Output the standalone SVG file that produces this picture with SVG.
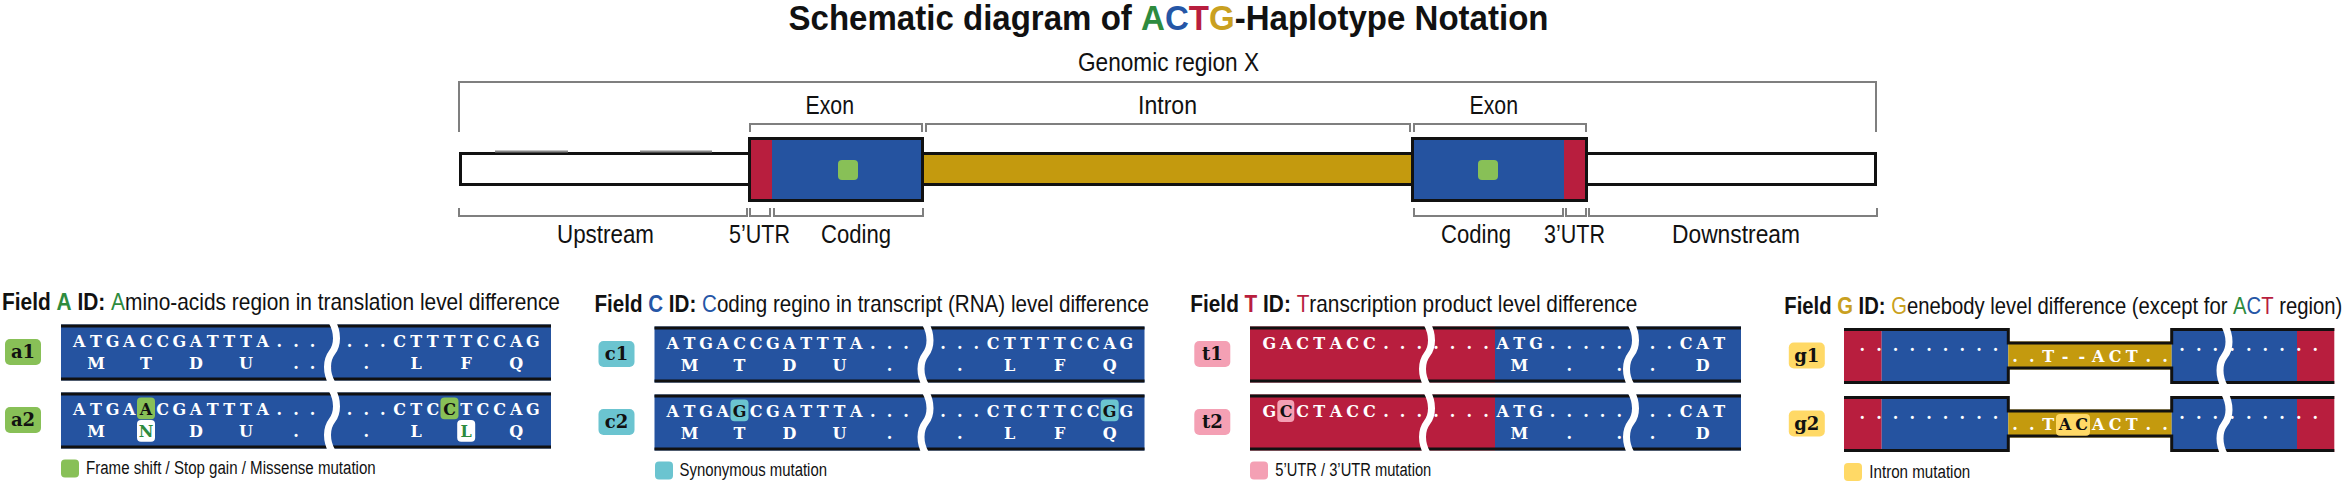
<svg xmlns="http://www.w3.org/2000/svg" width="2344" height="482" viewBox="0 0 2344 482">
<style>
.lbl{font-family:"Liberation Sans",Arial,sans-serif;font-size:26px;fill:#111}
.ttl{font-family:"Liberation Sans",Arial,sans-serif;font-size:35px;font-weight:bold;fill:#111}
.brk{fill:none;stroke:#7f7f7f;stroke-width:2}
.ft{font-family:"Liberation Sans",Arial,sans-serif;font-size:23px;fill:#111}
.b{font-weight:bold}
.leg{font-family:"Liberation Sans",Arial,sans-serif;font-size:18px;fill:#111}
.seq{font-family:"DejaVu Serif",serif;font-size:16px;font-weight:bold;fill:#fff;text-anchor:middle}
.tag{font-family:"DejaVu Serif",serif;font-size:18px;font-weight:bold;fill:#111;text-anchor:middle}
.blue{fill:#2553A0}
.red{fill:#B81E3E}
.gold{fill:#C49A0E}
.edge{stroke:#111;stroke-width:3;fill:none}
.cut{fill:none;stroke:#fff;stroke-width:7}
.hk{fill:#111}
.gA{fill:#2E8B3E}.cC{fill:#2556A6}.rT{fill:#B81E3E}.yG{fill:#C9A020}
</style>
<defs>
<path id="cut" class="cut" d="M0,-3 C6,8 6,20 0,28 S-6,48 0,59"/>
</defs>

<text id="title" class="ttl" transform="translate(788.5,30) scale(0.95,1)" x="0" y="0" textLength="800" lengthAdjust="spacingAndGlyphs">Schematic diagram of <tspan class="gA">A</tspan><tspan class="cC">C</tspan><tspan class="rT">T</tspan><tspan class="yG">G</tspan>-Haplotype Notation</text>

<g id="gene-model">
<rect x="460.5" y="153.5" width="289" height="31" fill="#fff" stroke="#111" stroke-width="3"/>
<path d="M495,151.5H568M640,151.5H712" stroke="#888" stroke-width="2" fill="none"/>
<rect x="922" y="153.5" width="492" height="31" fill="#C49A0E" stroke="#111" stroke-width="3"/>
<rect x="1586" y="153.5" width="289.5" height="31" fill="#fff" stroke="#111" stroke-width="3"/>
<rect x="749.5" y="138.5" width="173" height="62" fill="#2553A0" stroke="#111" stroke-width="3"/>
<rect x="751" y="140" width="21" height="59" class="red"/>
<rect x="1412.5" y="138.5" width="174" height="62" fill="#2553A0" stroke="#111" stroke-width="3"/>
<rect x="1564" y="140" width="21" height="59" class="red"/>
<rect x="838" y="160" width="20" height="20" rx="4" fill="#88C057"/>
<rect x="1478" y="160" width="20" height="20" rx="4" fill="#88C057"/>
</g>

<g id="brackets">
<path class="brk" d="M459,132V82H1876V132"/>
<path class="brk" d="M750,132V124H922V132"/>
<path class="brk" d="M926,132V124H1410V132"/>
<path class="brk" d="M1414,132V124H1586V132"/>
<path class="brk" d="M459,208V216H747V208"/>
<path class="brk" d="M750,208V216H770V208"/>
<path class="brk" d="M774,208V216H923V208"/>
<path class="brk" d="M1414,208V216H1563V208"/>
<path class="brk" d="M1566,208V216H1586V208"/>
<path class="brk" d="M1589,208V216H1877V208"/>
</g>

<g id="region-labels">
<text class="lbl" x="1078" y="71" textLength="181" lengthAdjust="spacingAndGlyphs">Genomic region X</text>
<text class="lbl" x="805.5" y="114" textLength="48.5" lengthAdjust="spacingAndGlyphs">Exon</text>
<text class="lbl" x="1138" y="114" textLength="59" lengthAdjust="spacingAndGlyphs">Intron</text>
<text class="lbl" x="1469.5" y="114" textLength="48.5" lengthAdjust="spacingAndGlyphs">Exon</text>
<text class="lbl" x="557" y="243" textLength="97" lengthAdjust="spacingAndGlyphs">Upstream</text>
<text class="lbl" x="729" y="243" textLength="61" lengthAdjust="spacingAndGlyphs">5’UTR</text>
<text class="lbl" x="821" y="243" textLength="70" lengthAdjust="spacingAndGlyphs">Coding</text>
<text class="lbl" x="1441" y="243" textLength="70" lengthAdjust="spacingAndGlyphs">Coding</text>
<text class="lbl" x="1544" y="243" textLength="61" lengthAdjust="spacingAndGlyphs">3’UTR</text>
<text class="lbl" x="1672" y="243" textLength="128" lengthAdjust="spacingAndGlyphs">Downstream</text>
</g>

<!-- Field A -->
<g id="field-a">
<text class="ft" transform="translate(2,310) scale(0.8,1)" x="0" y="0" textLength="697.5" lengthAdjust="spacingAndGlyphs"><tspan class="b">Field <tspan class="gA">A</tspan> ID:</tspan> <tspan class="gA">A</tspan>mino-acids region in translation level difference</text>
<g id="a1">
<rect x="5" y="339" width="36" height="26" rx="5" fill="#88C057"/>
<text class="tag" x="23" y="358">a1</text>
<rect x="61" y="324.5" width="490" height="56" class="blue"/>
<path class="edge" d="M61,326H551M61,379H551"/>
<text class="seq" x="79.3 96 112.6 129.3 146 162.6 179.3 196 212.6 229.3 246 262.6 279.3 296 312.6" y="347.3">ATGACCGATTTA...</text>
<text class="seq" x="349.5 366.2 382.8 399.5 416.2 432.8 449.5 466.2 482.8 499.5 516.2 532.8" y="347.3">...CTTTTCCAG</text>
<text class="seq" x="96 146 196 246 296 312.6 329.3" y="369.3">MTDU...</text>
<text class="seq" x="366.2 416.2 466.2 516.2" y="369.3">.LFQ</text>
<use href="#cut" x="332" y="324.5"/>
</g>
<g id="a2">
<rect x="5" y="407" width="36" height="26" rx="5" fill="#88C057"/>
<text class="tag" x="23" y="426">a2</text>
<rect x="61" y="392.5" width="490" height="56" class="blue"/>
<path class="edge" d="M61,394H551M61,447H551"/>
<rect x="137" y="397.5" width="18" height="21.7" rx="4" fill="#88C057"/>
<rect x="440.5" y="397.5" width="18" height="21.7" rx="4" fill="#88C057"/>
<rect x="137" y="420" width="18" height="21.7" rx="4" fill="#fff"/>
<rect x="457.2" y="420" width="18" height="21.7" rx="4" fill="#fff"/>
<text class="seq" x="79.3 96 112.6 129.3 146 162.6 179.3 196 212.6 229.3 246 262.6 279.3 296 312.6" y="415.3">ATGA<tspan class="hk">A</tspan>CGATTTA...</text>
<text class="seq" x="349.5 366.2 382.8 399.5 416.2 432.8 449.5 466.2 482.8 499.5 516.2 532.8" y="415.3">...CTC<tspan class="hk">C</tspan>TCCAG</text>
<text class="seq" x="96 146 196 246 296" y="437.3">M<tspan class="gA">N</tspan>DU.</text>
<text class="seq" x="366.2 416.2 466.2 516.2" y="437.3">.L<tspan class="gA">L</tspan>Q</text>
<use href="#cut" x="332" y="392.5"/>
</g>
<g id="legend-a">
<rect x="61" y="459.5" width="18" height="18" rx="4" fill="#88C057"/>
<text class="leg" x="86" y="474.3" textLength="289.7" lengthAdjust="spacingAndGlyphs">Frame shift / Stop gain / Missense mutation</text>
</g>
</g>

<!-- Field C -->
<g id="field-c" transform="translate(593.5,2)">
<text class="ft" transform="translate(1,310) scale(0.8,1)" x="0" y="0" textLength="693.1" lengthAdjust="spacingAndGlyphs"><tspan class="b">Field <tspan class="cC">C</tspan> ID:</tspan> <tspan class="cC">C</tspan>oding regino in transcript (RNA) level difference</text>
<g id="c1">
<rect x="5" y="339" width="36" height="26" rx="5" fill="#6BC4D0"/>
<text class="tag" x="23" y="358">c1</text>
<rect x="61" y="324.5" width="490" height="56" class="blue"/>
<path class="edge" d="M61,326H551M61,379H551"/>
<text class="seq" x="79.3 96 112.6 129.3 146 162.6 179.3 196 212.6 229.3 246 262.6 279.3 296 312.6" y="347.3">ATGACCGATTTA...</text>
<text class="seq" x="349.5 366.2 382.8 399.5 416.2 432.8 449.5 466.2 482.8 499.5 516.2 532.8" y="347.3">...CTTTTCCAG</text>
<text class="seq" x="96 146 196 246 296" y="369.3">MTDU.</text>
<text class="seq" x="366.2 416.2 466.2 516.2" y="369.3">.LFQ</text>
<use href="#cut" x="332" y="324.5"/>
</g>
<g id="c2">
<rect x="5" y="407" width="36" height="26" rx="5" fill="#6BC4D0"/>
<text class="tag" x="23" y="426">c2</text>
<rect x="61" y="392.5" width="490" height="56" class="blue"/>
<path class="edge" d="M61,394H551M61,447H551"/>
<rect x="137" y="397.5" width="18" height="21.7" rx="4" fill="#6BC4D0"/>
<rect x="507.2" y="397.5" width="18" height="21.7" rx="4" fill="#6BC4D0"/>
<text class="seq" x="79.3 96 112.6 129.3 146 162.6 179.3 196 212.6 229.3 246 262.6 279.3 296 312.6" y="415.3">ATGA<tspan class="hk">G</tspan>CGATTTA...</text>
<text class="seq" x="349.5 366.2 382.8 399.5 416.2 432.8 449.5 466.2 482.8 499.5 516.2 532.8" y="415.3">...CTCTTCC<tspan class="hk">G</tspan>G</text>
<text class="seq" x="96 146 196 246 296" y="437.3">MTDU.</text>
<text class="seq" x="366.2 416.2 466.2 516.2" y="437.3">.LFQ</text>
<use href="#cut" x="332" y="392.5"/>
</g>
<g id="legend-c">
<rect x="61.5" y="459.5" width="18" height="18" rx="4" fill="#6BC4D0"/>
<text class="leg" x="86" y="474.3" textLength="147.5" lengthAdjust="spacingAndGlyphs">Synonymous mutation</text>
</g>
</g>

<!-- Field T -->
<g id="field-t" transform="translate(1189.3,2)">
<text class="ft" transform="translate(1,310) scale(0.8,1)" x="0" y="0" textLength="558.75" lengthAdjust="spacingAndGlyphs"><tspan class="b">Field <tspan class="rT">T</tspan> ID:</tspan> <tspan class="rT">T</tspan>ranscription product level difference</text>
<g id="t1">
<rect x="5" y="339" width="36" height="26" rx="5" fill="#F4A0B4"/>
<text class="tag" x="23" y="358">t1</text>
<rect x="60.7" y="324.5" width="245" height="56" class="red"/>
<rect x="305.7" y="324.5" width="246" height="56" class="blue"/>
<path class="edge" d="M60.7,326H551.7M60.7,379H551.7"/>
<text class="seq" x="80 96.7 113.3 130 146.7 163.3 180 196.7 213.3 230 246.7 263.3 280 296.7 313.3 330 346.7 363.3 380 396.7 413.3 430 446.7 463.3 480 496.7 513.3 530" y="347.3">GACTACC.......ATG........CAT</text>
<text class="seq" x="330 380 430 463.3 513.3" y="369.3">M...D</text>
<use href="#cut" x="237.7" y="324.5"/>
<use href="#cut" x="441.7" y="324.5"/>
</g>
<g id="t2">
<rect x="5" y="407" width="36" height="26" rx="5" fill="#F4A0B4"/>
<text class="tag" x="23" y="426">t2</text>
<rect x="60.7" y="392.5" width="245" height="56" class="red"/>
<rect x="305.7" y="392.5" width="246" height="56" class="blue"/>
<path class="edge" d="M60.7,394H551.7M60.7,447H551.7"/>
<rect x="88" y="398" width="17" height="22" rx="4" fill="#F4A0B4"/>
<text class="seq" x="80 96.7 113.3 130 146.7 163.3 180 196.7 213.3 230 246.7 263.3 280 296.7 313.3 330 346.7 363.3 380 396.7 413.3 430 446.7 463.3 480 496.7 513.3 530" y="415.3">G<tspan class="hk">C</tspan>CTACC.......ATG........CAT</text>
<text class="seq" x="330 380 430 463.3 513.3" y="437.3">M...D</text>
<use href="#cut" x="237.7" y="392.5"/>
<use href="#cut" x="441.7" y="392.5"/>
</g>
<g id="legend-t">
<rect x="60.7" y="459.5" width="18" height="18" rx="4" fill="#F4A0B4"/>
<text class="leg" x="86" y="474.3" textLength="156" lengthAdjust="spacingAndGlyphs">5’UTR / 3’UTR mutation</text>
</g>
</g>

<!-- Field G -->
<g id="field-g" transform="translate(1783.3,3.5)">
<text class="ft" transform="translate(1,310) scale(0.8,1)" x="0" y="0" textLength="697.5" lengthAdjust="spacingAndGlyphs"><tspan class="b">Field <tspan class="yG">G</tspan> ID:</tspan> <tspan class="yG">G</tspan>enebody level difference (except for <tspan class="gA">A</tspan><tspan class="cC">C</tspan><tspan class="rT">T</tspan> region)</text>
<g id="g1">
<rect x="5.5" y="339" width="36" height="26" rx="5" fill="#FFD966"/>
<text class="tag" x="23.5" y="358">g1</text>
<rect x="60.7" y="324.5" width="37.7" height="56" class="red"/>
<rect x="98.4" y="324.5" width="126.6" height="56" class="blue"/>
<rect x="225" y="338" width="163.4" height="28" class="gold"/>
<rect x="388.4" y="324.5" width="125.3" height="56" class="blue"/>
<rect x="513.7" y="324.5" width="37.3" height="56" class="red"/>
<path class="edge" d="M60.7,326H225V339.5H388.4V326H551M60.7,379H225V364.5H388.4V379H551"/>
<text class="seq" x="79 95.7 112.3 129 145.7 162.3 179 195.7 212.3" y="347.3">.........</text>
<text class="seq" x="398.7 415.4 432 448.7 465.4 482 498.7 515.4 532" y="347.3">.........</text>
<text class="seq" x="231.7 248.4 265 281.7 298.4 315 331.7 348.4 365 381.7" y="358.2">..T--ACT..</text>
<use href="#cut" x="441.2" y="324.5"/>
</g>
<g id="g2">
<rect x="5.5" y="407" width="36" height="26" rx="5" fill="#FFD966"/>
<text class="tag" x="23.5" y="426">g2</text>
<rect x="60.7" y="392.5" width="37.7" height="56" class="red"/>
<rect x="98.4" y="392.5" width="126.6" height="56" class="blue"/>
<rect x="225" y="406" width="163.4" height="28" class="gold"/>
<rect x="388.4" y="392.5" width="125.3" height="56" class="blue"/>
<rect x="513.7" y="392.5" width="37.3" height="56" class="red"/>
<path class="edge" d="M60.7,394H225V407.5H388.4V394H551M60.7,447H225V432.5H388.4V447H551"/>
<rect x="272.7" y="410.5" width="34" height="21.7" rx="4" fill="#FFD966"/>
<text class="seq" x="79 95.7 112.3 129 145.7 162.3 179 195.7 212.3" y="415.3">.........</text>
<text class="seq" x="398.7 415.4 432 448.7 465.4 482 498.7 515.4 532" y="415.3">.........</text>
<text class="seq" x="231.7 248.4 265 281.7 298.4 315 331.7 348.4 365 381.7" y="426.2">..T<tspan class="hk">AC</tspan>ACT..</text>
<use href="#cut" x="441.2" y="392.5"/>
</g>
<g id="legend-g">
<rect x="60.7" y="459.5" width="18" height="18" rx="4" fill="#FFD966"/>
<text class="leg" x="86" y="474.3" textLength="101" lengthAdjust="spacingAndGlyphs">Intron mutation</text>
</g>
</g>
</svg>
